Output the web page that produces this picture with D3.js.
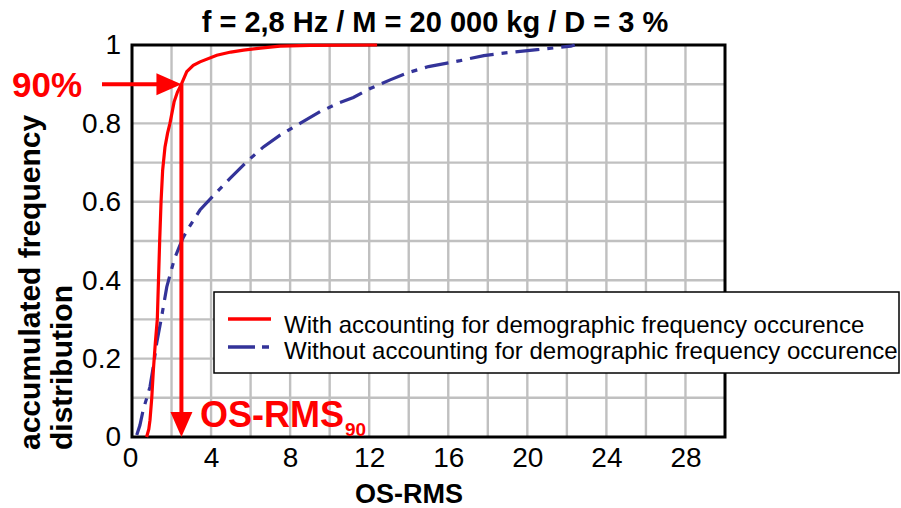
<!DOCTYPE html>
<html>
<head>
<meta charset="utf-8">
<script src="https://cdn.jsdelivr.net/npm/d3@7"></script>
<style>
  body { margin: 0; background: #fff; }
  text { font-family: "Liberation Sans", Arial, sans-serif; }
</style>
</head>
<body>
<div id="chart1"></div>
<script>

// [OS-RMS, accumulated frequency]
let withDemo = [
  [0.74, 0], [0.85, 0.02], [0.91, 0.043], [1.0, 0.10], [1.08, 0.17], [1.18, 0.24],
  [1.28, 0.30], [1.34, 0.40], [1.40, 0.50], [1.47, 0.60], [1.55, 0.68], [1.67, 0.74],
  [1.80, 0.775], [1.92, 0.80], [2.13, 0.855], [2.30, 0.88], [2.50, 0.90], [2.77, 0.932],
  [3.10, 0.948], [3.44, 0.957], [4.29, 0.974], [5.0, 0.982], [5.64, 0.987], [6.5, 0.992],
  [7.49, 0.997], [9.0, 0.999], [12.4, 1.0]
];

let withoutDemo = [
  [0.24, 0.005], [0.40, 0.03], [0.57, 0.07], [0.75, 0.10], [0.91, 0.128], [1.08, 0.18],
  [1.25, 0.24], [1.50, 0.307], [1.76, 0.383], [1.96, 0.42], [2.15, 0.455], [2.35, 0.48],
  [2.60, 0.51], [2.85, 0.532], [3.44, 0.579], [4.2, 0.62], [4.96, 0.66], [5.8, 0.702],
  [6.65, 0.74], [7.49, 0.77], [8.5, 0.80], [9.52, 0.83], [10.5, 0.853], [11.2, 0.866],
  [12.05, 0.889], [13.06, 0.911], [14.0, 0.93], [15.0, 0.945], [16.6, 0.96], [17.8, 0.973],
  [19.1, 0.981], [20.5, 0.988], [22.2, 0.997], [22.4, 1.0]
];

let xTicks = [0, 4, 8, 12, 16, 20, 24, 28];
let yTicks = [0, 0.2, 0.4, 0.6, 0.8, 1];
let xGrid = d3.range(2, 30, 2);
let yGrid = d3.range(0.1, 0.95, 0.1);

let seriesNames = [
  'With accounting for demographic frequency occurence',
  'Without accounting for demographic frequency occurence'
];

let titleText = 'f = 2,8 Hz / M = 20 000 kg / D = 3 %';
let level90 = 0.9;
let osRms90 = 2.5;


let dim = {
  'width': 901,
  'height': 508,
  'left': 132,
  'right': 725,
  'top': 45,
  'bottom': 437
};

let red = '#ff0000';
let blue = '#333399';

let svg = d3.select('#chart1').append('svg')
  .attr('width', dim.width)
  .attr('height', dim.height);

let scaleX = d3.scaleLinear()
  .domain([0, 30])
  .range([dim.left, dim.right]);

let scaleY = d3.scaleLinear()
  .domain([0, 1])
  .range([dim.bottom, dim.top]);

// plot area + grid
svg.append('rect')
  .attr('x', dim.left).attr('y', dim.top)
  .attr('width', dim.right - dim.left).attr('height', dim.bottom - dim.top)
  .attr('fill', '#fff');

svg.append('g').selectAll('line')
  .data(xGrid)
  .join('line')
  .attr('x1', d => scaleX(d)).attr('x2', d => scaleX(d))
  .attr('y1', dim.top).attr('y2', dim.bottom)
  .attr('stroke', '#c0c0c0').attr('stroke-width', 2.4);

svg.append('g').selectAll('line')
  .data(yGrid)
  .join('line')
  .attr('x1', dim.left).attr('x2', dim.right)
  .attr('y1', d => scaleY(d)).attr('y2', d => scaleY(d))
  .attr('stroke', '#c0c0c0').attr('stroke-width', 2.4);

svg.append('rect')
  .attr('x', dim.left).attr('y', dim.top)
  .attr('width', dim.right - dim.left).attr('height', dim.bottom - dim.top)
  .attr('fill', 'none')
  .attr('stroke', '#000').attr('stroke-width', 3);

// axes, no tick marks
let axisX = d3.axisBottom(scaleX).tickValues(xTicks).tickSize(0).tickPadding(10);
let gx = svg.append('g')
  .attr('transform', `translate(0, ${dim.bottom})`)
  .call(axisX);
gx.select('.domain').remove();
gx.selectAll('text')
  .attr('font-size', 28).attr('fill', '#000')
  .attr('font-family', '"Liberation Sans", Arial, sans-serif')
  .attr('dx', (d, i) => i == 0 ? -2 : 0);

let axisY = d3.axisLeft(scaleY).tickValues(yTicks).tickSize(0).tickPadding(11)
  .tickFormat(d => d == 0 || d == 1 ? d3.format('d')(d) : d3.format('.1f')(d));
let gy = svg.append('g')
  .attr('transform', `translate(${dim.left}, 0)`)
  .call(axisY);
gy.select('.domain').remove();
gy.selectAll('text')
  .attr('font-size', 28).attr('fill', '#000')
  .attr('font-family', '"Liberation Sans", Arial, sans-serif');

// curves
let line = d3.line()
  .x(d => scaleX(d[0]))
  .y(d => scaleY(d[1]));

svg.append('path')
  .datum(withoutDemo)
  .attr('d', line)
  .attr('fill', 'none')
  .attr('stroke', blue).attr('stroke-width', 3.2)
  .attr('stroke-dasharray', '24,8,6,8');

svg.append('path')
  .datum(withDemo)
  .attr('d', line)
  .attr('fill', 'none')
  .attr('stroke', red).attr('stroke-width', 3.2);

// 90% arrows
let ax = scaleX(osRms90);
let ay = scaleY(level90);

svg.append('line')
  .attr('x1', 102).attr('x2', ax - 20)
  .attr('y1', ay).attr('y2', ay)
  .attr('stroke', red).attr('stroke-width', 4);
svg.append('path')
  .attr('d', `M${ax},${ay} L${ax - 25},${ay - 11} L${ax - 25},${ay + 11} Z`)
  .attr('fill', red);

svg.append('line')
  .attr('x1', ax).attr('x2', ax)
  .attr('y1', ay).attr('y2', dim.bottom - 20)
  .attr('stroke', red).attr('stroke-width', 4);
svg.append('path')
  .attr('d', `M${ax},${dim.bottom} L${ax - 11},${dim.bottom - 25} L${ax + 11},${dim.bottom - 25} Z`)
  .attr('fill', red);

svg.append('text')
  .attr('x', 12).attr('y', 97)
  .attr('font-size', 35).attr('font-weight', 'bold').attr('fill', red)
  .text('90%');

let osLabel = svg.append('text')
  .attr('x', 200).attr('y', 427)
  .attr('font-size', 36).attr('font-weight', 'bold').attr('fill', red);
osLabel.append('tspan').text('OS-RMS');
osLabel.append('tspan')
  .attr('font-size', 19).attr('dy', 9).attr('dx', 1)
  .text('90');

// legend
let legend = svg.append('g');
legend.append('rect')
  .attr('x', 214).attr('y', 292)
  .attr('width', 685).attr('height', 81)
  .attr('fill', '#fff').attr('stroke', '#000').attr('stroke-width', 1.5);

legend.append('line')
  .attr('x1', 228).attr('x2', 271).attr('y1', 319).attr('y2', 319)
  .attr('stroke', red).attr('stroke-width', 3.5);
legend.append('line')
  .attr('x1', 228).attr('x2', 271).attr('y1', 347).attr('y2', 347)
  .attr('stroke', blue).attr('stroke-width', 3.5)
  .attr('stroke-dasharray', '27,7,7,7');

legend.selectAll('text.leg')
  .data(seriesNames)
  .join('text')
  .attr('class', 'leg')
  .attr('x', 284)
  .attr('y', (d, i) => 333 + i * 26)
  .attr('font-size', 24).attr('fill', '#000')
  .text(d => d);

// titles
svg.append('text')
  .attr('x', 435).attr('y', 32)
  .attr('text-anchor', 'middle')
  .attr('font-size', 29).attr('font-weight', 'bold')
  .text(titleText);

svg.append('text')
  .attr('x', 409).attr('y', 503)
  .attr('text-anchor', 'middle')
  .attr('font-size', 27).attr('font-weight', 'bold')
  .text('OS-RMS');

svg.append('text')
  .attr('transform', 'translate(40, 450) rotate(-90)')
  .attr('font-size', 30).attr('font-weight', 'bold')
  .text('accumulated frequency');
svg.append('text')
  .attr('transform', 'translate(72, 450) rotate(-90)')
  .attr('font-size', 30).attr('font-weight', 'bold')
  .text('distribution');

</script>
</body>
</html>
